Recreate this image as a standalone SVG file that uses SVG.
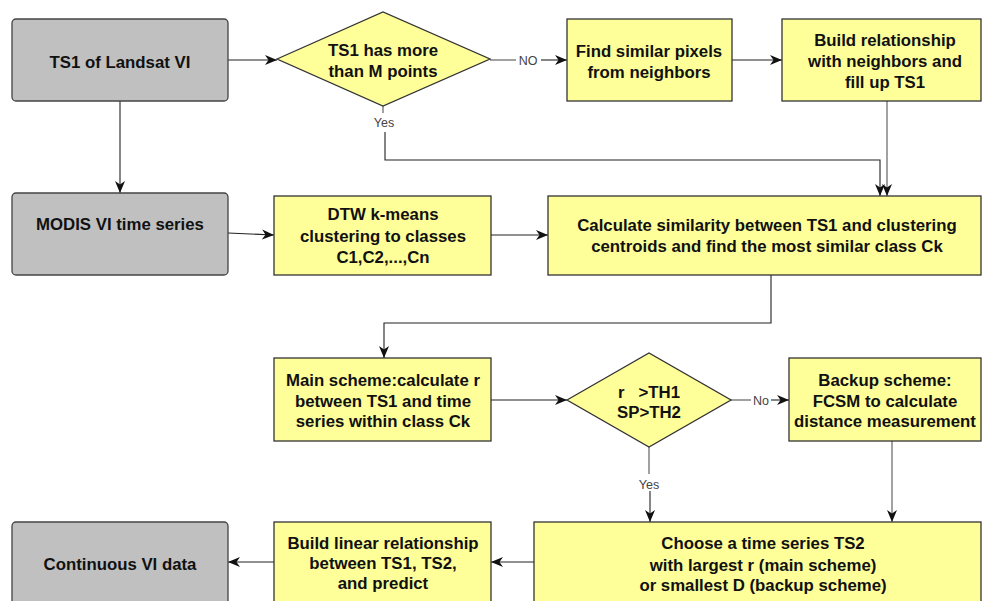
<svg xmlns="http://www.w3.org/2000/svg" width="982" height="601" viewBox="0 0 982 601">
<defs>
<style>
.gray{fill:#c0c0c0;stroke:#444;stroke-width:1.3}
.yel{fill:#ffff99;stroke:#333;stroke-width:1.3}
.t{font-family:"Liberation Sans",Arial,sans-serif;font-weight:bold;font-size:16.8px;fill:#111;text-anchor:middle}
.lbl{font-family:"Liberation Sans",Arial,sans-serif;font-size:12.5px;fill:#444;text-anchor:middle}
.c{fill:none;stroke:#222;stroke-width:1.1}
.g{fill:none;stroke:#555;stroke-width:1.1}
</style>
<marker id="ah" markerUnits="userSpaceOnUse" markerWidth="14" markerHeight="12" refX="12" refY="5" orient="auto">
<path d="M0,0 L12,5 L0,10 L3.5,5 z" fill="#111"/>
</marker>
</defs>
<rect width="982" height="601" fill="#fff"/>
<g id="connectors">
<line class="c" x1="228" y1="60" x2="277" y2="60" marker-end="url(#ah)"/>
<line class="g" x1="490" y1="60" x2="516" y2="60"/>
<line class="c" x1="541" y1="60" x2="567" y2="60" marker-end="url(#ah)"/>
<line class="c" x1="732" y1="60" x2="782" y2="60" marker-end="url(#ah)"/>
<line class="g" x1="887" y1="101" x2="887" y2="196" marker-end="url(#ah)"/>
<line class="g" x1="383" y1="106" x2="383" y2="113"/>
<polyline class="c" points="385,132 385,160 880,160 880,196" marker-end="url(#ah)"/>
<line class="c" x1="120" y1="101" x2="120" y2="193" marker-end="url(#ah)"/>
<line class="c" x1="228" y1="233" x2="274" y2="235" marker-end="url(#ah)"/>
<line class="c" x1="491" y1="235" x2="548" y2="235" marker-end="url(#ah)"/>
<polyline class="c" points="771,275 771,323 384,323 384,358" marker-end="url(#ah)"/>
<line class="c" x1="491" y1="400" x2="567" y2="400" marker-end="url(#ah)"/>
<line class="g" x1="731" y1="400" x2="751" y2="400"/>
<line class="c" x1="771" y1="400" x2="789" y2="400" marker-end="url(#ah)"/>
<line class="g" x1="892" y1="441" x2="892" y2="522" marker-end="url(#ah)"/>
<line class="g" x1="649" y1="447" x2="649" y2="474"/>
<line class="c" x1="650" y1="491" x2="650" y2="522" marker-end="url(#ah)"/>
<line class="c" x1="534" y1="562" x2="491" y2="562" marker-end="url(#ah)"/>
<line class="c" x1="274" y1="562" x2="228" y2="562" marker-end="url(#ah)"/>
<text class="lbl" x="528" y="65">NO</text>
<text class="lbl" x="384" y="127">Yes</text>
<text class="lbl" x="761" y="405">No</text>
<text class="lbl" x="649" y="489">Yes</text>
</g>
<g id="n1"><rect class="gray" x="12" y="19" width="216" height="82" rx="4"/><text class="t" x="120" y="68">TS1 of Landsat VI</text></g>
<g id="d1"><polygon class="yel" points="277,59 383,12 490,59 383,106"/><text class="t" x="383" y="56">TS1 has more</text><text class="t" x="383" y="77">than M points</text></g>
<g id="n2"><rect class="yel" x="567" y="19" width="165" height="82"/><text class="t" x="649" y="57">Find similar pixels</text><text class="t" x="649" y="78">from neighbors</text></g>
<g id="n3"><rect class="yel" x="782" y="19" width="199" height="82"/><text class="t" x="885" y="46">Build relationship</text><text class="t" x="885" y="67">with neighbors and</text><text class="t" x="885" y="88">fill up TS1</text></g>
<g id="n4"><rect class="gray" x="12" y="193" width="216" height="82" rx="4"/><text class="t" x="120" y="230">MODIS VI time series</text></g>
<g id="n5"><rect class="yel" x="274" y="196" width="217" height="79"/><text class="t" x="383" y="220">DTW k-means</text><text class="t" x="383" y="242">clustering to classes</text><text class="t" x="383" y="263">C1,C2,...,Cn</text></g>
<g id="n6"><rect class="yel" x="548" y="196" width="433" height="79"/><text class="t" x="767" y="231">Calculate similarity between TS1 and clustering</text><text class="t" x="767" y="252">centroids and find the most similar class Ck</text></g>
<g id="n7"><rect class="yel" x="274" y="358" width="217" height="83"/><text class="t" x="383" y="386">Main scheme:calculate r</text><text class="t" x="383" y="407">between TS1 and time</text><text class="t" x="383" y="427">series within class Ck</text></g>
<g id="d2"><polygon class="yel" points="567,400 649,353 731,400 649,447"/><text class="t" x="649" y="398" xml:space="preserve">r   &gt;TH1</text><text class="t" x="649" y="418">SP&gt;TH2</text></g>
<g id="n8"><rect class="yel" x="789" y="358" width="192" height="83"/><text class="t" x="885" y="386">Backup scheme:</text><text class="t" x="885" y="407">FCSM to calculate</text><text class="t" x="885" y="427">distance measurement</text></g>
<g id="n9"><rect class="yel" x="534" y="522" width="447" height="90"/><text class="t" x="763" y="549">Choose a time series TS2</text><text class="t" x="763" y="571">with largest r (main scheme)</text><text class="t" x="763" y="591">or smallest D (backup scheme)</text></g>
<g id="n10"><rect class="yel" x="274" y="522" width="217" height="90"/><text class="t" x="383" y="549">Build linear relationship</text><text class="t" x="383" y="569">between TS1, TS2,</text><text class="t" x="383" y="589">and predict</text></g>
<g id="n11"><rect class="gray" x="12" y="522" width="216" height="90" rx="4"/><text class="t" x="120" y="570">Continuous VI data</text></g>
</svg>
